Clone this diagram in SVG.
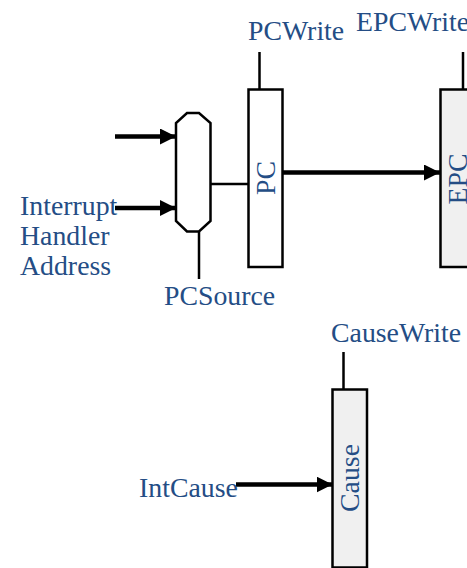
<svg xmlns="http://www.w3.org/2000/svg" width="467" height="568" viewBox="0 0 467 568">
  <defs>
    <marker id="arrow" viewBox="0 0 16 16" refX="16" refY="8" markerWidth="16" markerHeight="16" markerUnits="userSpaceOnUse" orient="auto">
      <path d="M0,0 L16,8 L0,16 Z" fill="#000"/>
    </marker>
    <style>
      .lbl { font-family: "Liberation Serif", "Times New Roman", serif; font-size: 27.8px; fill: #244d85; }
      .reg { stroke: #000; stroke-width: 2.5; }
      .wire { stroke: #000; stroke-width: 2.5; fill: none; }
      .bus { stroke: #000; stroke-width: 4.5; fill: none; }
    </style>
  </defs>
  <rect width="467" height="568" fill="#fff"/>

  <!-- connectors -->
  <g id="connectors">
    <line class="bus" x1="115" y1="136.5" x2="176" y2="136.5" marker-end="url(#arrow)"/>
    <line class="bus" x1="115" y1="208" x2="176" y2="208" marker-end="url(#arrow)"/>
    <line class="wire" x1="211" y1="184" x2="248.5" y2="184"/>
    <line class="wire" x1="199" y1="232" x2="199" y2="279"/>
    <line class="wire" x1="259.5" y1="52" x2="259.5" y2="89"/>
    <line class="wire" x1="463" y1="52" x2="463" y2="89"/>
    <line class="bus" x1="283" y1="172.5" x2="440" y2="172.5" marker-end="url(#arrow)"/>
    <line class="wire" x1="343.5" y1="352" x2="343.5" y2="389.5"/>
    <line class="bus" x1="236" y1="484.5" x2="332.5" y2="484.5" marker-end="url(#arrow)"/>
  </g>

  <!-- multiplexer -->
  <g id="mux">
    <polygon class="reg" fill="#fff" points="187,113 199,113 210.5,123 210.5,221 199,231.5 187,231.5 176,221 176,123"/>
  </g>

  <!-- PC register -->
  <g id="pc">
    <rect class="reg" fill="#fff" x="248.5" y="89.5" width="34" height="177.5"/>
    <text class="lbl" transform="translate(274.5,178) rotate(-90)" text-anchor="middle">PC</text>
  </g>

  <!-- EPC register -->
  <g id="epc">
    <rect class="reg" fill="#f0f0f0" x="440.5" y="89.5" width="40" height="177.5"/>
    <text class="lbl" transform="translate(467,179) rotate(-90)" text-anchor="middle">EPC</text>
  </g>

  <!-- Cause register -->
  <g id="cause">
    <rect class="reg" fill="#f0f0f0" x="332.5" y="389.5" width="34.5" height="178"/>
    <text class="lbl" transform="translate(359,478) rotate(-90)" text-anchor="middle">Cause</text>
  </g>

  <!-- control and data labels -->
  <g id="labels">
    <text class="lbl" x="248" y="39.5">PCWrite</text>
    <text class="lbl" x="356" y="30.5">EPCWrite</text>
    <text class="lbl" x="164" y="305">PCSource</text>
    <text class="lbl" x="20">
      <tspan x="20" y="215">Interrupt</tspan>
      <tspan x="20" y="245">Handler</tspan>
      <tspan x="20" y="275">Address</tspan>
    </text>
    <text class="lbl" x="331" y="342">CauseWrite</text>
    <text class="lbl" x="139" y="497">IntCause</text>
  </g>
</svg>
